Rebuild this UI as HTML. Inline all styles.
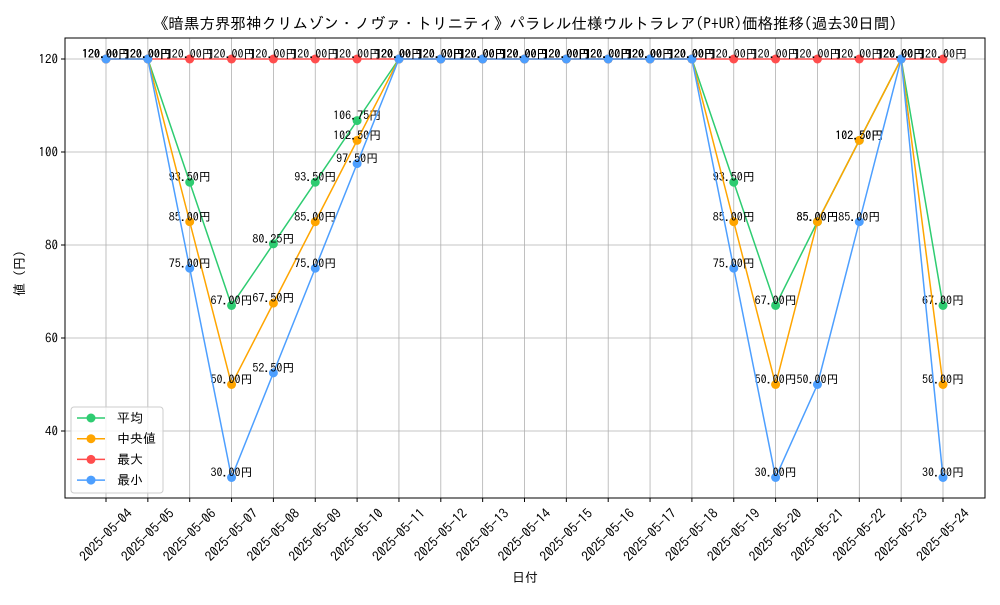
<!DOCTYPE html>
<html><head><meta charset="utf-8"><style>
body{margin:0;background:#fff}
text{font-family:"IPAGothic","Noto Sans CJK JP",sans-serif}
</style></head><body>
<svg id="c" width="1000" height="600" xmlns="http://www.w3.org/2000/svg"></svg>
<script>
const dates=["2025-05-04","2025-05-05","2025-05-06","2025-05-07","2025-05-08","2025-05-09","2025-05-10","2025-05-11","2025-05-12","2025-05-13","2025-05-14","2025-05-15","2025-05-16","2025-05-17","2025-05-18","2025-05-19","2025-05-20","2025-05-21","2025-05-22","2025-05-23","2025-05-24"];
const avgVals=[120,120,93.5,67,80.25,93.5,106.75,120,120,120,120,120,120,120,120,93.5,67,85,102.5,120,67];
const medVals=[120,120,85,50,67.5,85,102.5,120,120,120,120,120,120,120,120,85,50,85,102.5,120,50];
const maxVals=[120,120,120,120,120,120,120,120,120,120,120,120,120,120,120,120,120,120,120,120,120];
const minVals=[120,120,75,30,52.5,75,97.5,120,120,120,120,120,120,120,120,75,30,50,85,120,30];
const yTicks=[40,60,80,100,120];
const svg=document.getElementById('c');const NS='http://www.w3.org/2000/svg';
function el(t,a,p){const e=document.createElementNS(NS,t);for(const k in a)e.setAttribute(k,a[k]);(p||svg).appendChild(e);return e;}
const L=65,R=985,T=38,B=498;
const xS=i=>106+i*(943-106)/(dates.length-1);
const yS=v=>59+(120-v)*4.65;
let g=el('g',{});
dates.forEach((d,i)=>{el('line',{x1:xS(i),x2:xS(i),y1:T,y2:B,stroke:'#b0b0b0','stroke-width':0.8},g);
 el('line',{x1:xS(i),x2:xS(i),y1:B,y2:B+4,stroke:'#000'});
 const t=el('text',{x:0,y:4.5,'font-size':13.5,'text-anchor':'middle',transform:`translate(${xS(i)},535) rotate(-45)`});t.textContent=d;
 });
yTicks.forEach(v=>{el('line',{x1:L,x2:R,y1:yS(v),y2:yS(v),stroke:'#b0b0b0','stroke-width':0.8},g);
 el('line',{x1:L-4,x2:L,y1:yS(v),y2:yS(v),stroke:'#000'});
 const t=el('text',{x:L-7,y:yS(v)+4.5,'font-size':13,'text-anchor':'end'});t.textContent=v;
 });
const fr=el('rect',{x:L,y:T,width:R-L,height:B-T,fill:'none',stroke:'#000','stroke-width':1});

const series=[["avg",avgVals,"#2ecc71"],["median",medVals,"#ffa500"],["max",maxVals,"#ff4d4d"],["min",minVals,"#4d9fff"]];
series.forEach(([n,vals,c])=>{const sg=el('g',{});
 el('polyline',{points:vals.map((v,i)=>xS(i)+','+yS(v)).join(' '),fill:'none',stroke:c,'stroke-width':1.5},sg);
 vals.forEach((v,i)=>{const p=el('circle',{cx:xS(i),cy:yS(v),r:4.5,fill:c},sg);
  const t=el('text',{x:xS(i),y:yS(v)-1,'font-size':12,'text-anchor':'middle'},sg);t.textContent=v.toFixed(2)+'円';
  });});
let t=el('text',{x:525,y:29,'font-size':15.5,'text-anchor':'middle'});t.textContent='《暗黒方界邪神クリムゾン・ノヴァ・トリニティ》パラレル仕様ウルトラレア(P+UR)価格推移(過去30日間)';

t=el('text',{x:525,y:582,'font-size':13,'text-anchor':'middle'});t.textContent='日付';
t=el('text',{x:0,y:0,'font-size':13,'text-anchor':'middle',transform:'translate(24,270) rotate(-90)'});t.textContent='値（円）';
const lg=el('g',{});
el('rect',{x:71,y:407,width:92,height:86,rx:3,fill:'#fff','fill-opacity':0.8,stroke:'#ccc'},lg);
const names=["平均","中央値","最大","最小"];
series.forEach(([n,v,c],k)=>{const y=418+k*20.7;const e=el('g',{},lg);
 el('line',{x1:77,x2:105,y1:y,y2:y,stroke:c,'stroke-width':1.5},e);el('circle',{cx:91,cy:y,r:4.5,fill:c},e);
 const tt=el('text',{x:117,y:y+4.5,'font-size':13},e);tt.textContent=names[k];});
</script>
</body></html>
